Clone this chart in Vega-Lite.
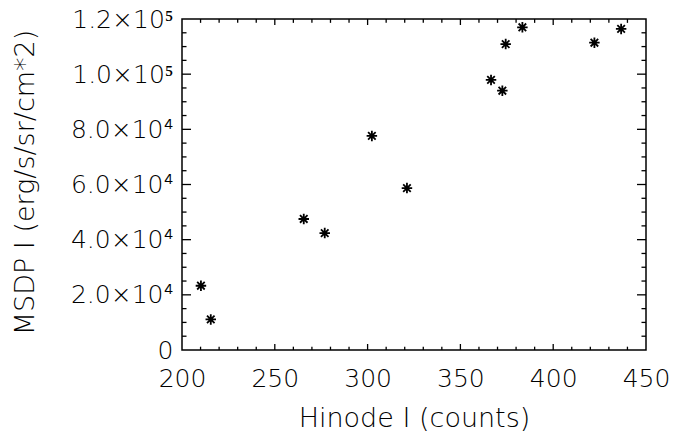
{
  "$schema": "https://vega.github.io/schema/vega-lite/v6.json",
  "width": 464,
  "height": 331,
  "autosize": {"type": "none"},
  "padding": {"left": 182, "top": 19, "right": 34, "bottom": 88},
  "background": "white",
  "config": {
    "view": {"stroke": "black", "strokeWidth": 1.5},
    "axis": {
      "grid": false,
      "domain": false,
      "ticks": false,
      "labelFont": "DejaVu Sans",
      "labelFontWeight": 200,
      "labelFontSize": 25,
      "labelColor": "black",
      "titleFont": "DejaVu Sans",
      "titleFontWeight": 200,
      "titleFontSize": 27,
      "titleColor": "black"
    }
  },
  "datasets": {
    "points": [
      {"hinode": 210.2, "msdp": 23300},
      {"hinode": 215.5, "msdp": 11100},
      {"hinode": 265.6, "msdp": 47500},
      {"hinode": 276.9, "msdp": 42400},
      {"hinode": 302.3, "msdp": 77600},
      {"hinode": 321.2, "msdp": 58700},
      {"hinode": 366.5, "msdp": 97900},
      {"hinode": 372.6, "msdp": 94000},
      {"hinode": 374.4, "msdp": 110900},
      {"hinode": 383.4, "msdp": 117000},
      {"hinode": 422.2, "msdp": 111400},
      {"hinode": 436.6, "msdp": 116400}
    ],
    "xticks": [
      {"v": 210, "kind": "minor"}, {"v": 220, "kind": "minor"}, {"v": 230, "kind": "minor"}, {"v": 240, "kind": "minor"},
      {"v": 250, "kind": "major"},
      {"v": 260, "kind": "minor"}, {"v": 270, "kind": "minor"}, {"v": 280, "kind": "minor"}, {"v": 290, "kind": "minor"},
      {"v": 300, "kind": "major"},
      {"v": 310, "kind": "minor"}, {"v": 320, "kind": "minor"}, {"v": 330, "kind": "minor"}, {"v": 340, "kind": "minor"},
      {"v": 350, "kind": "major"},
      {"v": 360, "kind": "minor"}, {"v": 370, "kind": "minor"}, {"v": 380, "kind": "minor"}, {"v": 390, "kind": "minor"},
      {"v": 400, "kind": "major"},
      {"v": 410, "kind": "minor"}, {"v": 420, "kind": "minor"}, {"v": 430, "kind": "minor"}, {"v": 440, "kind": "minor"}
    ],
    "yticks": [
      {"v": 5000, "kind": "minor"}, {"v": 10000, "kind": "minor"}, {"v": 15000, "kind": "minor"},
      {"v": 20000, "kind": "major"},
      {"v": 25000, "kind": "minor"}, {"v": 30000, "kind": "minor"}, {"v": 35000, "kind": "minor"},
      {"v": 40000, "kind": "major"},
      {"v": 45000, "kind": "minor"}, {"v": 50000, "kind": "minor"}, {"v": 55000, "kind": "minor"},
      {"v": 60000, "kind": "major"},
      {"v": 65000, "kind": "minor"}, {"v": 70000, "kind": "minor"}, {"v": 75000, "kind": "minor"},
      {"v": 80000, "kind": "major"},
      {"v": 85000, "kind": "minor"}, {"v": 90000, "kind": "minor"}, {"v": 95000, "kind": "minor"},
      {"v": 100000, "kind": "major"},
      {"v": 105000, "kind": "minor"}, {"v": 110000, "kind": "minor"}, {"v": 115000, "kind": "minor"}
    ]
  },
  "layer": [
    {
      "data": {"name": "points"},
      "mark": {"type": "point", "shape": "M-1,0L1,0M0,-1L0,1M-0.72,-0.72L0.72,0.72M-0.72,0.72L0.72,-0.72", "filled": false, "stroke": "black", "strokeWidth": 1.8, "size": 110, "opacity": 1},
      "encoding": {
        "x": {"field": "hinode", "type": "quantitative",
          "scale": {"domain": [200, 450], "nice": false, "zero": false},
          "axis": {"orient": "bottom", "values": [200, 250, 300, 350, 400, 450], "labelPadding": 16, "labelFlush": false,
            "title": "Hinode I (counts)", "titleY": 76, "titleBaseline": "alphabetic"}},
        "y": {"field": "msdp", "type": "quantitative",
          "scale": {"domain": [0, 120000], "nice": false, "zero": false},
          "axis": {"orient": "left", "values": [0, 20000, 40000, 60000, 80000, 100000, 120000], "labelPadding": 9, "labelFlush": false,
            "labelExpr": "datum.value == 0 ? '0' : datum.value < 100000 ? format(datum.value/10000, '.1f') + '×10⁴' : format(datum.value/100000, '.1f') + '×10⁵'",
            "title": "MSDP I (erg/s/sr/cm*2)", "titleX": -149, "titleY": 163, "titleAngle": -90, "titleAlign": "center", "titleBaseline": "alphabetic"}}
      }
    },
    {
      "data": {"name": "xticks"},
      "transform": [{"filter": "datum.kind == 'major'"}],
      "mark": {"type": "rule", "color": "black", "strokeWidth": 1.3},
      "encoding": {
        "x": {"field": "v", "type": "quantitative"},
        "y": {"datum": 0, "type": "quantitative"},
        "y2": {"datum": 2175}
      }
    },
    {
      "data": {"name": "xticks"},
      "transform": [{"filter": "datum.kind == 'minor'"}],
      "mark": {"type": "rule", "color": "black", "strokeWidth": 1.3},
      "encoding": {
        "x": {"field": "v", "type": "quantitative"},
        "y": {"datum": 0, "type": "quantitative"},
        "y2": {"datum": 1200}
      }
    },
    {
      "data": {"name": "xticks"},
      "transform": [{"filter": "datum.kind == 'major'"}],
      "mark": {"type": "rule", "color": "black", "strokeWidth": 1.3},
      "encoding": {
        "x": {"field": "v", "type": "quantitative"},
        "y": {"datum": 120000, "type": "quantitative"},
        "y2": {"datum": 117825}
      }
    },
    {
      "data": {"name": "xticks"},
      "transform": [{"filter": "datum.kind == 'minor'"}],
      "mark": {"type": "rule", "color": "black", "strokeWidth": 1.3},
      "encoding": {
        "x": {"field": "v", "type": "quantitative"},
        "y": {"datum": 120000, "type": "quantitative"},
        "y2": {"datum": 118600}
      }
    },
    {
      "data": {"name": "yticks"},
      "transform": [{"filter": "datum.kind == 'major'"}],
      "mark": {"type": "rule", "color": "black", "strokeWidth": 1.3},
      "encoding": {
        "y": {"field": "v", "type": "quantitative"},
        "x": {"datum": 200, "type": "quantitative"},
        "x2": {"datum": 204.85}
      }
    },
    {
      "data": {"name": "yticks"},
      "transform": [{"filter": "datum.kind == 'minor'"}],
      "mark": {"type": "rule", "color": "black", "strokeWidth": 1.3},
      "encoding": {
        "y": {"field": "v", "type": "quantitative"},
        "x": {"datum": 200, "type": "quantitative"},
        "x2": {"datum": 202.43}
      }
    },
    {
      "data": {"name": "yticks"},
      "transform": [{"filter": "datum.kind == 'major'"}],
      "mark": {"type": "rule", "color": "black", "strokeWidth": 1.3},
      "encoding": {
        "y": {"field": "v", "type": "quantitative"},
        "x": {"datum": 450, "type": "quantitative"},
        "x2": {"datum": 445.15}
      }
    },
    {
      "data": {"name": "yticks"},
      "transform": [{"filter": "datum.kind == 'minor'"}],
      "mark": {"type": "rule", "color": "black", "strokeWidth": 1.3},
      "encoding": {
        "y": {"field": "v", "type": "quantitative"},
        "x": {"datum": 450, "type": "quantitative"},
        "x2": {"datum": 447.57}
      }
    }
  ]
}
